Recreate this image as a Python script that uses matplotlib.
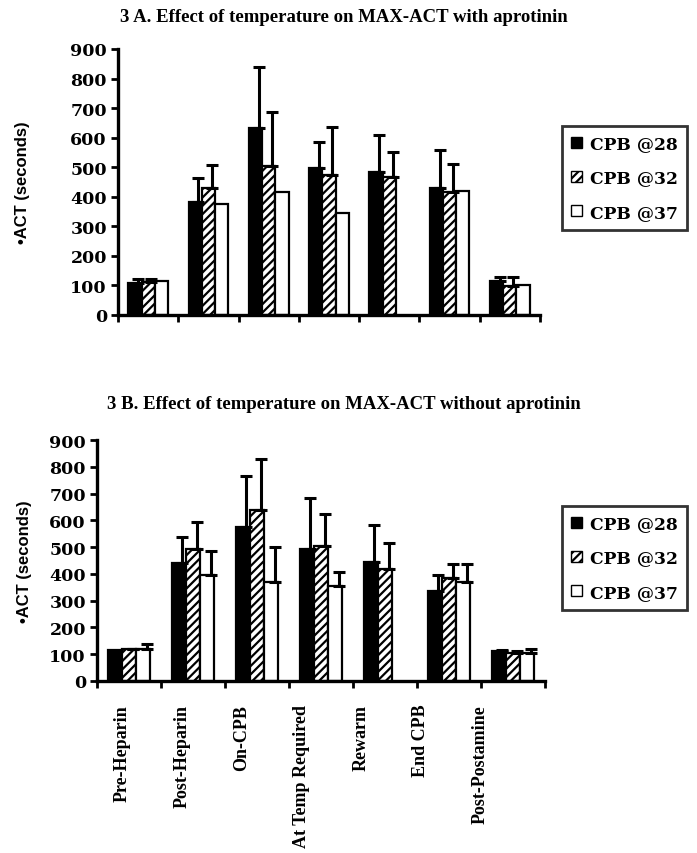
import numpy as np
import matplotlib
matplotlib.use("Agg")
import matplotlib.pyplot as plt
from matplotlib.patches import Patch

categories = ["Pre-Heparin", "Post-Heparin", "On-CPB", "At Temp Required",
              "Rewarm", "End CPB", "Post-Postamine"]
series_names = ["CPB @28", "CPB @32", "CPB @37"]

# Panel A (with aprotinin): means and upper error
a_28 = [108, 383, 632, 496, 483, 429, 114]
a_28_err = [15, 81, 206, 88, 126, 129, 13]
a_32 = [110, 429, 505, 475, 466, 415, 99]
a_32_err = [12, 79, 181, 160, 87, 96, 28]
a_37 = [115, 376, 415, 346, np.nan, 418, 103]
a_37_err = [0, 0, 0, 0, 0, 0, 0]

# Panel B (without aprotinin)
b_28 = [115, 442, 576, 492, 444, 336, 112]
b_28_err = [0, 96, 190, 190, 137, 60, 3]
b_32 = [118, 492, 639, 504, 417, 386, 104]
b_32_err = [3, 102, 191, 119, 100, 50, 8]
b_37 = [121, 397, 371, 355, np.nan, 371, 106]
b_37_err = [18, 89, 131, 52, 0, 65, 15]

yticks = [0, 100, 200, 300, 400, 500, 600, 700, 800, 900]
titles = ["3 A. Effect of temperature on MAX-ACT with aprotinin",
          "3 B. Effect of temperature on MAX-ACT without aprotinin"]
ylabel = "\u2022ACT (seconds)"

W, H = 697, 854
fig = plt.figure(figsize=(W / 100, H / 100), dpi=100)

serif = ["Liberation Serif", "DejaVu Serif"]
wide_serif = ["DejaVu Serif"]
sans = ["Liberation Sans", "DejaVu Sans"]

def panel(rect, vals, errs, title, title_y, show_xlabels, legend_rect, ylab_x):
    ax = fig.add_axes(rect)
    n = len(categories)
    x = np.arange(n)
    bw = 0.22
    styles = [dict(facecolor="black", edgecolor="black", hatch=None),
              dict(facecolor="white", edgecolor="black", hatch="////"),
              dict(facecolor="white", edgecolor="black", hatch=None)]
    for k in range(3):
        xs = x + (k - 1) * bw
        v = np.array(vals[k], dtype=float)
        ax.bar(xs, v, width=bw, linewidth=1.6, zorder=2, **styles[k])
        e = np.array(errs[k], dtype=float)
        mask = (~np.isnan(v)) & (e > 0)
        ax.errorbar(xs[mask] + bw * 0.25, v[mask],
                    yerr=[np.zeros(mask.sum()), e[mask]],
                    fmt="none", ecolor="black", elinewidth=2.2,
                    capsize=4, capthick=2.2, zorder=3)
    ax.set_xlim(-0.5, n - 0.5)
    ax.set_ylim(0, 900)
    ax.set_yticks(yticks)
    ax.set_yticklabels([str(t) for t in yticks], fontfamily=wide_serif,
                       fontweight="bold", fontsize=12.5)
    ax.set_xticks(np.arange(n + 1) - 0.5)
    ax.set_xticklabels([])
    ax.tick_params(axis="both", direction="out", width=2, length=5, color="black")
    ax.tick_params(axis="y", pad=3)
    for s in ["top", "right"]:
        ax.spines[s].set_visible(False)
    for s in ["left", "bottom"]:
        ax.spines[s].set_linewidth(2.4)
    ax.set_ylabel(ylabel, fontfamily=sans, fontweight="bold", fontsize=12)
    ax.yaxis.set_label_coords(ylab_x, 0.5)
    fig.text(0.493, title_y, title, ha="center", va="center",
             fontfamily=serif, fontweight="bold", fontsize=13.5)
    if show_xlabels:
        label_pos = np.arange(n) * 0.93 - 0.1
        for lp, lab in zip(label_pos, categories):
            ax.text(lp, -85, lab, rotation=90, ha="center", va="top",
                    fontfamily=serif, fontweight="bold", fontsize=13,
                    transform=ax.transData)
    handles = [Patch(facecolor="black", edgecolor="black"),
               Patch(facecolor="white", edgecolor="black", hatch="////"),
               Patch(facecolor="white", edgecolor="black")]
    leg = fig.legend(handles, series_names, loc="upper left",
                     bbox_to_anchor=legend_rect, frameon=True, fancybox=False,
                     handlelength=0.6, handleheight=0.6, handletextpad=0.5,
                     labelspacing=1.0, borderpad=0.55, borderaxespad=0,
                     prop=dict(family=wide_serif, weight="bold", size=12.3))
    leg.get_frame().set_edgecolor("black")
    leg.get_frame().set_linewidth(2)
    return ax

plt.rcParams["hatch.linewidth"] = 1.6

panel([118 / W, 1 - 316 / H, (540 - 118) / W, (316 - 50) / H],
      [a_28, a_32, a_37], [a_28_err, a_32_err, a_37_err],
      titles[0], 1 - 17 / H, False, (562 / W, 1 - 127 / H), (30 - 118) / 422)
panel([97 / W, 1 - 682 / H, (545 - 97) / W, (682 - 441) / H],
      [b_28, b_32, b_37], [b_28_err, b_32_err, b_37_err],
      titles[1], 1 - 405 / H, True, (562 / W, 1 - 507 / H), (32 - 97) / 448)

fig.savefig("out.png", dpi=100, facecolor="white")
